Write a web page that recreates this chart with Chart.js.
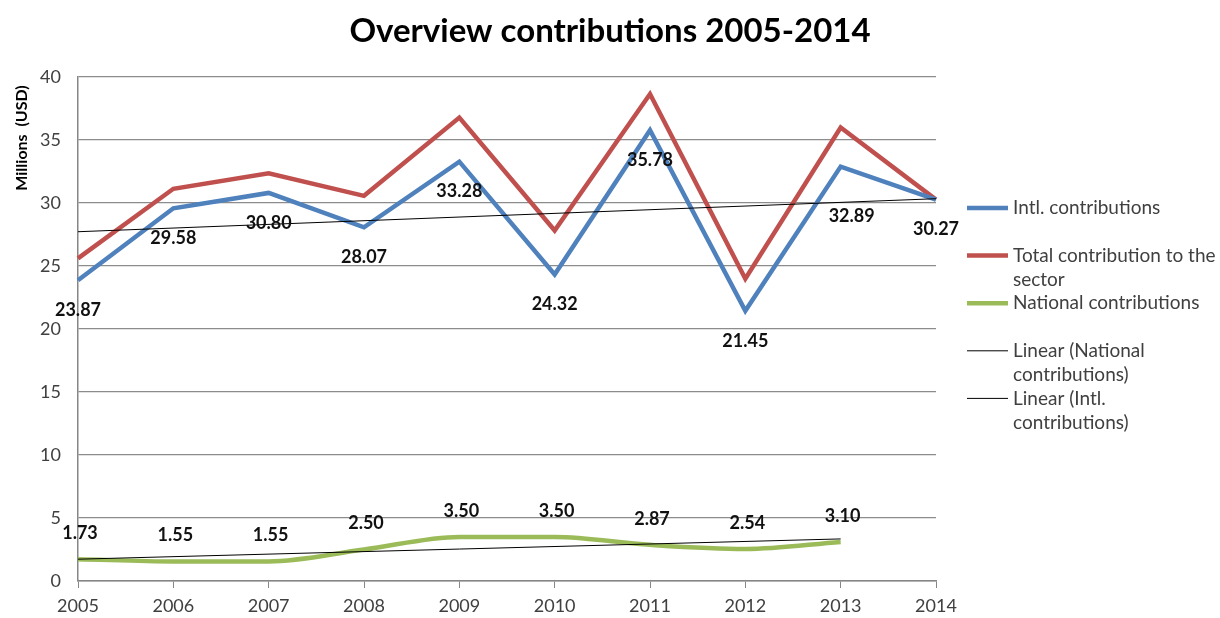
<!DOCTYPE html>
<html>
<head>
<meta charset="utf-8">
<title>Overview contributions 2005-2014</title>
<script src="https://cdn.jsdelivr.net/npm/chart.js@4.4.1/dist/chart.umd.min.js"></script>
<style>
  html, body { margin: 0; padding: 0; background: #fff; }
  #wrap { width: 1220px; height: 618px; }
</style>
</head>
<body>
<div id="wrap"><canvas id="contribChart" width="1220" height="618"></canvas></div>
<script>
// Chart data (millions USD)
const years = ['2005', '2006', '2007', '2008', '2009', '2010', '2011', '2012', '2013', '2014'];
const intlContrib = [23.87, 29.58, 30.80, 28.07, 33.28, 24.32, 35.78, 21.45, 32.89, 30.27];
const totalContrib = [25.60, 31.13, 32.35, 30.57, 36.78, 27.82, 38.65, 23.99, 35.99, 30.27];
const nationalContrib = [1.73, 1.55, 1.55, 2.50, 3.50, 3.50, 2.87, 2.54, 3.10, null];
// trend lines, only the end points
const trendNational = [1.73, null, null, null, null, null, null, null, 3.34, null];
const trendIntl = [27.72, null, null, null, null, null, null, null, null, 30.34];
const yTicks = [0, 5, 10, 15, 20, 25, 30, 35, 40];

const FONT = 'Lato, "Open Sans", sans-serif';
const TEXT_GREY = '#404040';

// Value labels on Intl. and National series
const valueLabels = {
    id: 'valueLabels',
    afterDatasetsDraw(chart) {
        const ctx = chart.ctx;
        ctx.save();
        ctx.font = 'bold 18px ' + FONT;
        ctx.fillStyle = '#111';
        ctx.textAlign = 'center';
        ctx.textBaseline = 'middle';

        chart.getDatasetMeta(0).data.forEach((pt, i) => {
            const v = intlContrib[i];
            if (v == null) return;
            // 2013 label sits a bit further off in the original
            const dx = i === 8 ? 11 : 0;
            const dy = i === 8 ? 50 : 30;
            ctx.fillText(v.toFixed(2), pt.x + dx, pt.y + dy);
        });

        chart.getDatasetMeta(2).data.forEach((pt, i) => {
            const v = nationalContrib[i];
            if (v == null) return;
            ctx.fillText(v.toFixed(2), pt.x + 2, pt.y - 26);
        });
        ctx.restore();
    }
};

// Title, y-axis caption and the legend on the right
const decorations = {
    id: 'decorations',
    afterDraw(chart) {
        const ctx = chart.ctx;
        ctx.save();

        ctx.fillStyle = '#000';
        ctx.font = 'bold 33px ' + FONT;
        ctx.textAlign = 'center';
        ctx.textBaseline = 'middle';
        ctx.fillText('Overview contributions 2005-2014', 610, 31);

        ctx.save();
        ctx.translate(22, 138);
        ctx.rotate(-Math.PI / 2);
        ctx.font = 'bold 16px ' + FONT;
        ctx.fillText('Millions  (USD)', 0, 0);
        ctx.restore();

        // legend
        const textX = 1013;
        const maxW = 206;
        ctx.font = '19px ' + FONT;
        ctx.textAlign = 'left';
        ctx.fillStyle = TEXT_GREY;
        chart.data.datasets.forEach((ds, i) => {
            const y = 208 + i * 47.6;
            ctx.strokeStyle = ds.borderColor;
            ctx.lineWidth = ds.borderWidth;
            ctx.beginPath();
            ctx.moveTo(967, y);
            ctx.lineTo(1008, y);
            ctx.stroke();

            const words = ds.label.split(' ');
            let line = '';
            let ly = y;
            words.forEach(w => {
                const test = line ? line + ' ' + w : w;
                if (line && ctx.measureText(test).width > maxW) {
                    ctx.fillText(line, textX, ly);
                    line = w;
                    ly += 24.5;
                } else {
                    line = test;
                }
            });
            ctx.fillText(line, textX, ly);
        });
        ctx.restore();
    }
};

const ctx = document.getElementById('contribChart').getContext('2d');
const contribChart = new Chart(ctx, {
    type: 'line',
    data: {
        labels: years,
        datasets: [{
            label: 'Intl. contributions',
            data: intlContrib,
            borderColor: '#4F81BD',
            borderWidth: 4.5,
            pointRadius: 0,
            order: 2
        }, {
            label: 'Total contribution to the sector',
            data: totalContrib,
            borderColor: '#C0504D',
            borderWidth: 4.5,
            pointRadius: 0,
            order: 3
        }, {
            label: 'National contributions',
            data: nationalContrib,
            borderColor: '#9BBB59',
            borderWidth: 4.5,
            pointRadius: 0,
            cubicInterpolationMode: 'monotone',
            order: 2
        }, {
            label: 'Linear (National contributions)',
            data: trendNational,
            borderColor: '#000',
            borderWidth: 1,
            pointRadius: 0,
            spanGaps: true,
            order: 1
        }, {
            label: 'Linear (Intl. contributions)',
            data: trendIntl,
            borderColor: '#000',
            borderWidth: 1,
            pointRadius: 0,
            spanGaps: true,
            order: 1
        }]
    },
    options: {
        responsive: false,
        animation: false,
        layout: {
            padding: { top: 77, right: 284, left: 0, bottom: 0 }
        },
        plugins: {
            legend: { display: false },
            title: { display: false },
            tooltip: { enabled: false }
        },
        scales: {
            x: {
                offset: false,
                afterFit: s => { s.height = 37; },
                grid: {
                    drawOnChartArea: false,
                    drawTicks: true,
                    tickLength: 7,
                    color: '#868686'
                },
                border: { color: '#868686', width: 1.5 },
                ticks: {
                    color: TEXT_GREY,
                    font: { family: FONT, size: 18 },
                    padding: 7,
                    maxRotation: 0
                }
            },
            y: {
                min: 0,
                max: 40,
                afterFit: s => { s.width = 78; },
                afterBuildTicks: s => { s.ticks = yTicks.map(v => ({ value: v })); },
                grid: {
                    color: '#8c8c8c',
                    lineWidth: 1.2,
                    drawTicks: false
                },
                border: { color: '#868686', width: 1.5 },
                ticks: {
                    color: TEXT_GREY,
                    font: { family: FONT, size: 18 },
                    padding: 17
                }
            }
        }
    },
    plugins: [valueLabels, decorations]
});
</script>
</body>
</html>
